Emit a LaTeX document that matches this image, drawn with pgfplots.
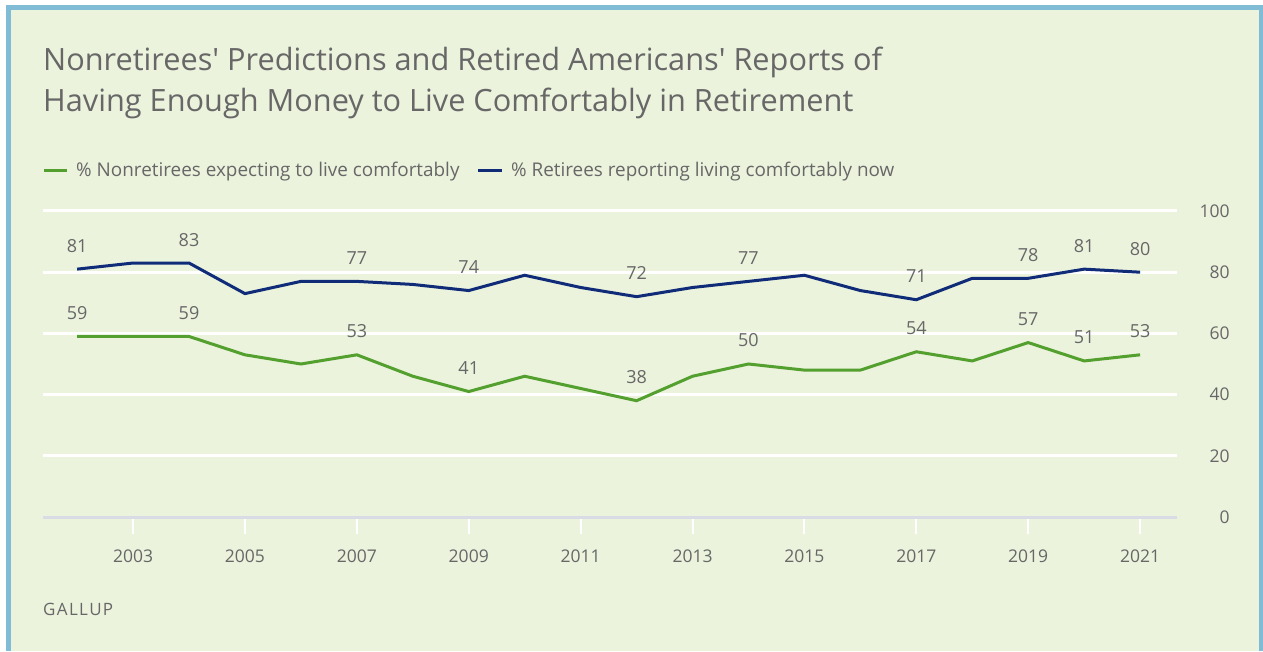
\documentclass[border=0pt]{standalone}
\usepackage{fontspec}
\setmainfont{Open Sans}
\usepackage{pgfplots}
\pgfplotsset{compat=1.18}
\usepackage{pgfplotstable}

\definecolor{bg}{HTML}{EBF3DD}
\definecolor{framec}{HTML}{80BCD6}
\definecolor{txt}{HTML}{676767}
\definecolor{grn}{HTML}{53A02E}
\definecolor{blu}{HTML}{102C78}
\definecolor{basec}{HTML}{D9DCE5}

% year, retirees (value, label), nonretirees (value, label)
\pgfplotstableread{
year r  rl n  nl
2002 81 81 59 59
2003 83 {} 59 {}
2004 83 83 59 59
2005 73 {} 53 {}
2006 77 {} 50 {}
2007 77 77 53 53
2008 76 {} 46 {}
2009 74 74 41 41
2010 79 {} 46 {}
2011 75 {} 42 {}
2012 72 72 38 38
2013 75 {} 46 {}
2014 77 77 50 50
2015 79 {} 48 {}
2016 74 {} 48 {}
2017 71 71 54 54
2018 78 {} 51 {}
2019 78 78 57 57
2020 81 81 51 51
2021 80 80 53 53
}\comfort

\begin{document}
\begin{tikzpicture}
\useasboundingbox (0pt,0pt) rectangle (1263pt,651pt);
\fill[white] (0pt,0pt) rectangle (1263pt,651pt);
\fill[framec] (6pt,0pt) rectangle (1263pt,646pt);
\fill[bg] (11pt,0pt) rectangle (1259pt,641pt);

\node[anchor=base west, inner sep=0, text=txt, font=\fontsize{30.7}{36}\selectfont] at (43pt,580pt)
  {Nonretirees\textquotesingle\ Predictions and Retired Americans\textquotesingle\ Reports of};
\node[anchor=base west, inner sep=0, text=txt, font=\fontsize{30.7}{36}\selectfont] at (43pt,539pt)
  {Having Enough Money to Live Comfortably in Retirement};

\draw[grn, line width=3pt] (44pt,480pt) -- (67pt,480pt);
\node[anchor=base west, inner sep=0, text=txt, font=\fontsize{18.9}{22}\selectfont] at (76pt,474pt)
  {\% Nonretirees expecting to live comfortably};
\draw[blu, line width=3pt] (478pt,480pt) -- (502pt,480pt);
\node[anchor=base west, inner sep=0, text=txt, font=\fontsize{18.9}{22}\selectfont] at (511pt,474pt)
  {\% Retirees reporting living comfortably now};

\node[anchor=base west, inner sep=0, text=txt, font=\fontsize{17}{20}\selectfont\addfontfeatures{LetterSpace=8}] at (43pt,36pt)
  {GALLUP};

\begin{axis}[
  at={(43pt,134pt)}, anchor=south west,
  scale only axis, width=1134pt, height=306pt,
  xmin=2001.39, xmax=2021.66, ymin=0, ymax=100,
  axis line style={draw=none},
  clip=false,
  xtick={2003,2005,...,2021},
  ytick={20,40,60,80,100},
  extra y ticks={0},
  extra y tick style={grid style={basec, line width=3pt}},
  ymajorgrids, grid style={white, line width=3pt},
  xtick pos=bottom, tick align=outside,
  x tick style={white, line width=2pt},
  major tick length=17pt,
  y tick style={draw=none},
  yticklabel pos=right,
  /pgf/number format/assume math mode=true,
  /pgf/number format/1000 sep={},
  ticklabel style={text=txt, font=\fontsize{17.5}{20}\selectfont, inner sep=0},
  xticklabel style={anchor=base, yshift=-28pt},
  yticklabel style={anchor=east, xshift=36pt},
  every node near coord/.append style={text=txt, font=\fontsize{18}{20}\selectfont, anchor=base, inner sep=0, yshift=17pt},
]
\addplot[blu, line width=3pt, no markers, nodes near coords, point meta=explicit symbolic]
  table[x=year, y=r, meta=rl] {\comfort};
\addplot[grn, line width=3pt, no markers, nodes near coords, point meta=explicit symbolic]
  table[x=year, y=n, meta=nl] {\comfort};
\end{axis}
\end{tikzpicture}
\end{document}
